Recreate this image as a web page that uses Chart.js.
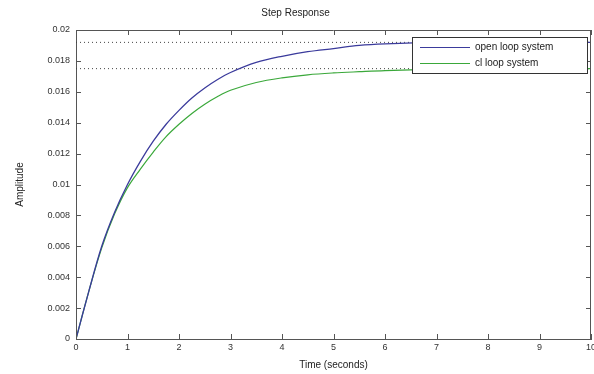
<!DOCTYPE html>
<html>
<head>
<meta charset="utf-8">
<script src="https://cdn.jsdelivr.net/npm/chart.js@4/dist/chart.umd.min.js"></script>
<style>
body { margin: 0; background: #fff; }
</style>
</head>
<body>
<canvas id="step_chart" width="594" height="374"></canvas>
<script>
// tiempo (s) y respuesta
var tiempo = [0, 0.25, 0.5, 0.75, 1, 1.25, 1.5, 1.75, 2, 2.25, 2.5, 2.75, 3, 3.5, 4, 4.5, 5, 5.5, 6, 7, 8, 9, 10];
var open_loop = [0, 0.0031, 0.0060, 0.0082, 0.0100, 0.0115, 0.0128, 0.0139, 0.0148, 0.0156, 0.01625, 0.0168, 0.01725, 0.0179, 0.0183, 0.0186, 0.0188, 0.0190, 0.0191, 0.0192, 0.0192, 0.0192, 0.0192];
var cl_loop = [0, 0.0031, 0.0059, 0.0081, 0.0098, 0.0110, 0.0121, 0.0131, 0.0139, 0.0146, 0.0152, 0.0157, 0.0161, 0.0166, 0.0169, 0.0171, 0.01722, 0.0173, 0.01737, 0.01745, 0.0175, 0.0175, 0.0175];
var final_open = 0.0192;
var final_cl = 0.0175;
var x_ticks = [0, 1, 2, 3, 4, 5, 6, 7, 8, 9, 10];
var y_ticks = [0, 0.002, 0.004, 0.006, 0.008, 0.01, 0.012, 0.014, 0.016, 0.018, 0.02];

var fuente = "'Liberation Sans', Arial, sans-serif";

function puntos(xs, ys) {
    return xs.map(function(x, i) { return { x: x, y: ys[i] }; });
}

// marco, ticks hacia adentro y leyenda estilo matlab
var marco = {
    id: 'marco',
    afterDraw: function(chart) {
        var ctx = chart.ctx, a = chart.chartArea;
        var sx = chart.scales.x, sy = chart.scales.y;
        ctx.save();
        ctx.strokeStyle = '#555';
        ctx.lineWidth = 1;
        ctx.beginPath();
        ctx.moveTo(a.left, a.top + 0.5);
        ctx.lineTo(a.right, a.top + 0.5);
        ctx.moveTo(a.right - 0.5, a.top);
        ctx.lineTo(a.right - 0.5, a.bottom);
        x_ticks.forEach(function(v) {
            var px = Math.round(sx.getPixelForValue(v)) + 0.5;
            ctx.moveTo(px, a.bottom); ctx.lineTo(px, a.bottom - 5);
            ctx.moveTo(px, a.top); ctx.lineTo(px, a.top + 5);
        });
        y_ticks.forEach(function(v) {
            var py = Math.round(sy.getPixelForValue(v)) + 0.5;
            ctx.moveTo(a.left, py); ctx.lineTo(a.left + 5, py);
            ctx.moveTo(a.right, py); ctx.lineTo(a.right - 5, py);
        });
        ctx.stroke();

        // leyenda
        var lx = 412, ly = 37, lw = 175, lh = 36;
        ctx.fillStyle = '#fff';
        ctx.fillRect(lx, ly, lw, lh);
        ctx.strokeStyle = '#333';
        ctx.strokeRect(lx + 0.5, ly + 0.5, lw, lh);
        ctx.font = '10px ' + fuente;
        ctx.textBaseline = 'middle';
        var filas = chart.data.datasets.filter(function(d) { return !d.guia; });
        filas.forEach(function(d, i) {
            var y = ly + 10.5 + i * 16;
            ctx.strokeStyle = d.borderColor;
            ctx.lineWidth = 1.2;
            ctx.beginPath();
            ctx.moveTo(lx + 8, y);
            ctx.lineTo(lx + 58, y);
            ctx.stroke();
            ctx.fillStyle = '#222';
            ctx.fillText(d.label, lx + 63, y);
        });
        ctx.restore();
    }
};

new Chart(document.getElementById('step_chart'), {
    type: 'line',
    data: {
        datasets: [{
            label: 'open loop system',
            data: puntos(tiempo, open_loop),
            borderColor: '#3b3b9c',
            borderWidth: 1.3,
            pointRadius: 0,
            tension: 0.35
        }, {
            label: 'cl loop system',
            data: puntos(tiempo, cl_loop),
            borderColor: '#3aa83a',
            borderWidth: 1.2,
            pointRadius: 0,
            tension: 0.35
        }, {
            label: 'final open',
            guia: true,
            data: puntos([0, 10], [final_open, final_open]),
            borderColor: '#444',
            borderWidth: 1,
            borderDash: [1, 3],
            pointRadius: 0
        }, {
            label: 'final cl',
            guia: true,
            data: puntos([0, 10], [final_cl, final_cl]),
            borderColor: '#444',
            borderWidth: 1,
            borderDash: [1, 3],
            pointRadius: 0
        }]
    },
    options: {
        responsive: false,
        animation: false,
        layout: { padding: { right: 3 } },
        plugins: {
            legend: { display: false },
            tooltip: { enabled: false },
            title: {
                display: true,
                text: 'Step Response',
                color: '#222',
                font: { family: fuente, size: 10, weight: 'normal' },
                padding: { top: 7, bottom: 11 }
            }
        },
        scales: {
            x: {
                type: 'linear',
                min: 0,
                max: 10,
                afterBuildTicks: function(s) { s.ticks = x_ticks.map(function(v) { return { value: v }; }); },
                afterFit: function(s) { s.height = 35; s.paddingRight = 0; },
                grid: { display: false, drawTicks: false },
                border: { color: '#555' },
                ticks: { color: '#333', font: { family: fuente, size: 9 }, padding: 3, maxRotation: 0 },
                title: { display: true, text: 'Time (seconds)', color: '#222', font: { family: fuente, size: 10 }, padding: { top: 2, bottom: 3 } }
            },
            y: {
                min: 0,
                max: 0.02,
                afterBuildTicks: function(s) { s.ticks = y_ticks.map(function(v) { return { value: v }; }); },
                afterFit: function(s) { s.width = 76; },
                grid: { display: false, drawTicks: false },
                border: { color: '#555' },
                ticks: {
                    color: '#333',
                    font: { family: fuente, size: 9 },
                    padding: 6,
                    callback: function(v) { return String(+v.toFixed(3)); }
                },
                title: { display: true, text: 'Amplitude', color: '#222', font: { family: fuente, size: 10 }, padding: { top: 14, bottom: 0 } }
            }
        }
    },
    plugins: [marco]
});
</script>
</body>
</html>
